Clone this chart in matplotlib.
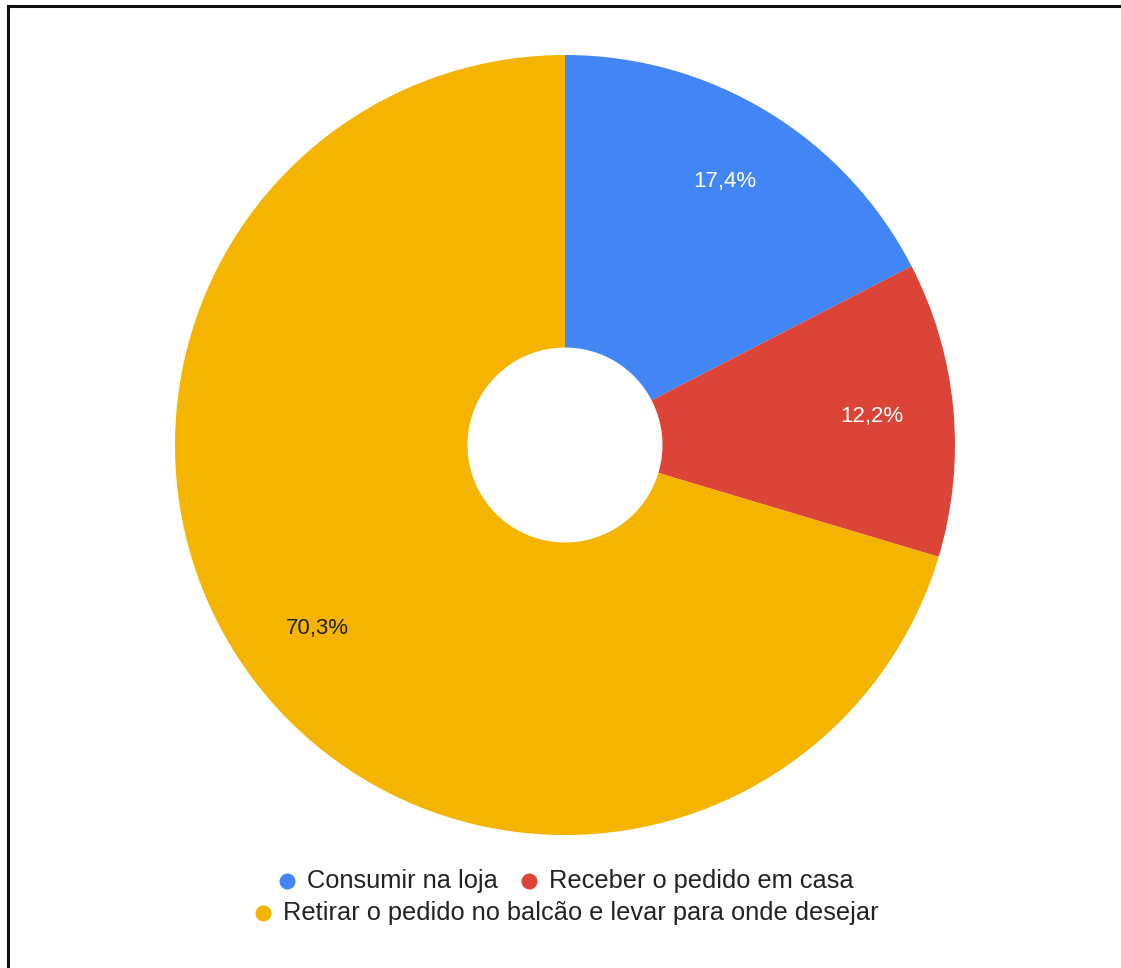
import numpy as np
import matplotlib.pyplot as plt
from matplotlib.lines import Line2D

plt.rcParams['font.family'] = ['Liberation Sans', 'DejaVu Sans']

categories = ['Consumir na loja', 'Receber o pedido em casa',
              'Retirar o pedido no balcão e levar para onde desejar']
shares = [17.4, 12.2, 70.3]
labels = ['17,4%', '12,2%', '70,3%']
colors = ['#4285F4', '#DB4437', '#F4B400']
label_colors = ['white', 'white', '#222222']

W, H = 1121, 968
fig = plt.figure(figsize=(W / 100, H / 100), dpi=100)

def fx(px):
    return px / W

def fy(py):
    return 1 - py / H

# donut
ax = fig.add_axes([fx(175), fy(835), fx(780), 780 / H])
wedges, _ = ax.pie(shares, colors=colors, startangle=90, counterclock=False,
                   radius=1, wedgeprops=dict(width=0.75, linewidth=0))
for w, lab, c in zip(wedges, labels, label_colors):
    ang = np.deg2rad((w.theta1 + w.theta2) / 2)
    ax.text(0.79 * np.cos(ang), 0.79 * np.sin(ang), lab, color=c,
            fontsize=16, ha='center', va='center')
ax.set_xlim(-1, 1)
ax.set_ylim(-1, 1)
ax.set_aspect('equal')
ax.axis('off')

# legend, two centred rows
legend_items = [(287, 881, 0), (529, 881, 1), (263, 913, 2)]
for x, y, i in legend_items:
    fig.add_artist(Line2D([fx(x)], [fy(y)], marker='o', markersize=10.5,
                          color=colors[i], linestyle='none'))
    fig.text(fx(x + 20), fy(y), categories[i], fontsize=18.3, color='#222222',
             ha='left', va='center')

# frame lines on top and left
fig.add_artist(Line2D([fx(7.5), 1], [fy(5.5), fy(5.5)], color='#111111', linewidth=2.2))
fig.add_artist(Line2D([fx(7.5), fx(7.5)], [fy(5.5), 0], color='#111111', linewidth=2.2))

fig.savefig('out.png', dpi=100, facecolor='white')
